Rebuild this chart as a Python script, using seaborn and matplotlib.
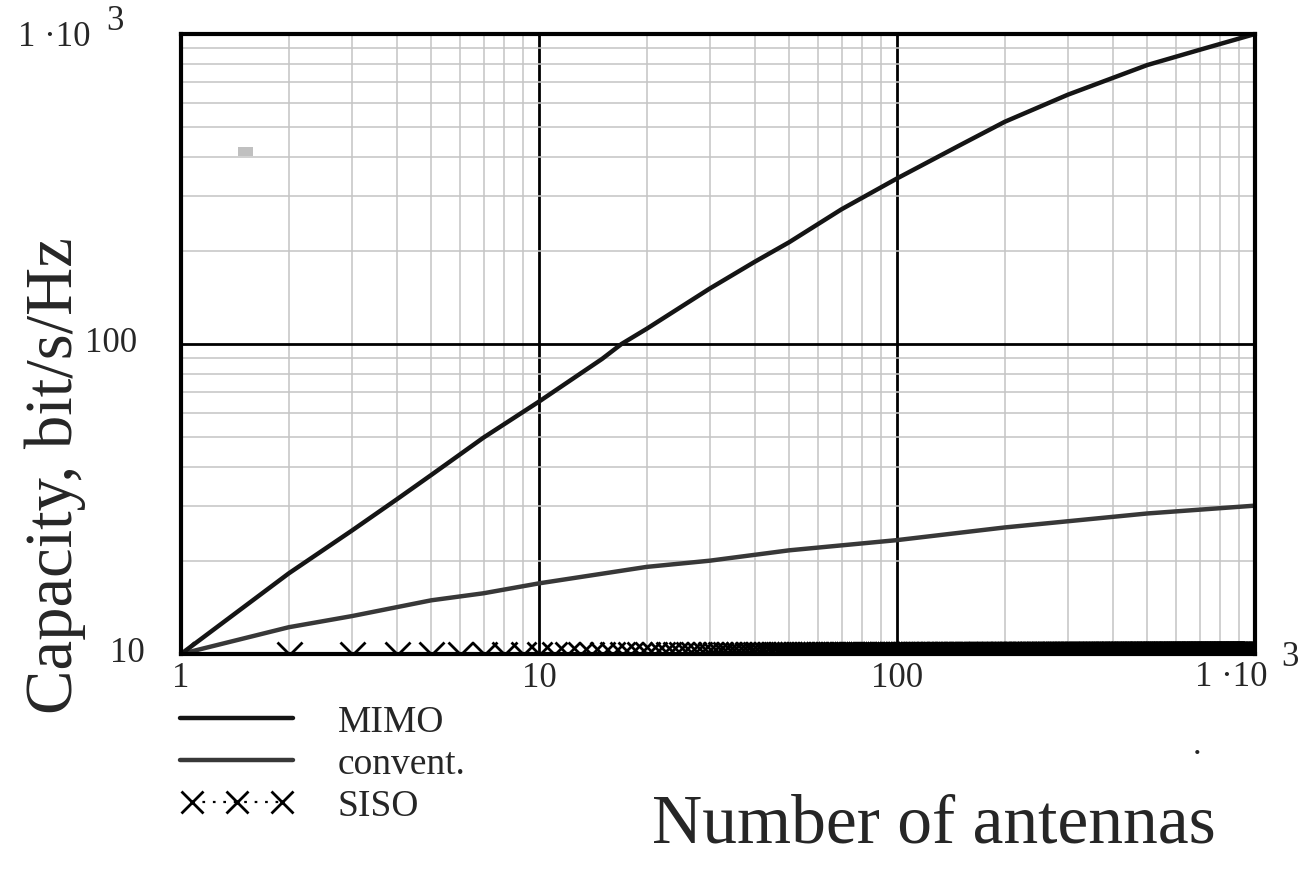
import numpy as np
import pandas as pd
import matplotlib
matplotlib.use("Agg")
import matplotlib.pyplot as plt
import seaborn as sns
from matplotlib.patches import Rectangle
from matplotlib.ticker import LogLocator, NullFormatter
from matplotlib.transforms import blended_transform_factory
from matplotlib.legend_handler import HandlerLine2D

# ---- data ----
mimo_n = [1, 2, 3, 4, 5, 7, 10, 15, 17, 20, 30, 40, 50, 70, 100, 150, 200, 300, 500, 700, 1000]
mimo_cap = [10, 18.2, 25, 31.5, 37.8, 49.9, 65.2, 89.5, 100, 112, 151, 184, 213, 272, 342, 438, 521, 637, 794, 889, 1000]

conv_n = [1, 2, 3, 5, 7, 10, 20, 30, 50, 100, 200, 500, 1000]
conv_cap = [10, 12.2, 13.25, 14.9, 15.7, 16.9, 19.1, 20.0, 21.6, 23.3, 25.6, 28.4, 30.1]

siso_n = list(range(1, 1001))
siso_cap = [10.0] * len(siso_n)

series_labels = ["MIMO", "convent.", "SISO"]
x_tick_labels = ["1", "10", "100"]
y_tick_labels = ["10", "100"]

sns.set_style("white")
plt.rcParams["font.family"] = ["Liberation Serif", "DejaVu Serif"]

W, H = 1302, 876
fig = plt.figure(figsize=(W / 100, H / 100), dpi=100)
L, R, T, B = 181, 1255, 34, 654
ax = fig.add_axes([L / W, 1 - B / H, (R - L) / W, (B - T) / H])

ax.set_xscale("log")
ax.set_yscale("log")
ax.set_xlim(1, 1000)
ax.set_ylim(10, 1000)

# grid
ax.xaxis.set_minor_locator(LogLocator(base=10, subs=np.arange(2, 10)))
ax.yaxis.set_minor_locator(LogLocator(base=10, subs=np.arange(2, 10)))
ax.xaxis.set_minor_formatter(NullFormatter())
ax.yaxis.set_minor_formatter(NullFormatter())
ax.grid(True, which="minor", color="#c4c4c4", lw=1.1)
ax.grid(True, which="major", color="black", lw=2.0)
ax.set_axisbelow(True)
ax.tick_params(which="both", length=0)

df_m = pd.DataFrame({"N": mimo_n, "C": mimo_cap})
df_c = pd.DataFrame({"N": conv_n, "C": conv_cap})
df_s = pd.DataFrame({"N": siso_n, "C": siso_cap})

sns.lineplot(data=df_s, x="N", y="C", ax=ax, color="black", lw=1.6, ls=(0, (1.2, 3.5)),
             marker="x", markersize=18, markeredgewidth=2.0, markeredgecolor="black",
             markerfacecolor="black", label=series_labels[2], estimator=None, sort=False,
             clip_on=True)
sns.lineplot(data=df_c, x="N", y="C", ax=ax, color="#383838", lw=3.2,
             label=series_labels[1], estimator=None, sort=False)
sns.lineplot(data=df_m, x="N", y="C", ax=ax, color="#151515", lw=3.2,
             label=series_labels[0], estimator=None, sort=False)

for s in ax.spines.values():
    s.set_visible(True)
    s.set_color("black")
    s.set_linewidth(3)

fs = 25
# x tick labels
ax.set_xticks([1, 10, 100, 1000])
ax.set_xticklabels(x_tick_labels + [""], fontsize=fs)
ax.tick_params(axis="x", pad=6)
fig.text(1231 / W, 1 - 677 / H, "1 ·10", fontsize=fs, ha="center", va="center")
fig.text(1290 / W, 1 - 657 / H, "3", fontsize=fs, ha="center", va="center")

# y tick labels
ax.set_yticks([10, 100, 1000])
ax.set_yticklabels([""] * 3)
tr = blended_transform_factory(fig.transFigure, ax.transData)
ax.text(145 / W, 10, y_tick_labels[0], transform=tr, fontsize=fs, ha="right", va="center")
ax.text(137 / W, 100, y_tick_labels[1], transform=tr, fontsize=fs, ha="right", va="center")
fig.text(90 / W, 1 - 37 / H, "1 ·10", fontsize=fs, ha="right", va="center")
fig.text(115 / W, 1 - 21 / H, "3", fontsize=fs, ha="center", va="center")

ax.set_xlabel("")
ax.set_ylabel("")
fig.text(55 / W, 1 - 476 / H, "Capacity, bit/s/Hz", rotation=90, fontsize=48,
         ha="center", va="center")
fig.text(934 / W, 1 - 826 / H, "Number of antennas", fontsize=50,
         ha="center", va="center")

# legend
handles, labels = ax.get_legend_handles_labels()
order = [labels.index(l) for l in series_labels]
hs = [handles[i] for i in order]
ax.legend(hs, [labels[i] for i in order],
          loc="upper left", bbox_to_anchor=(169 / W, 1 - 705 / H),
          bbox_transform=fig.transFigure, frameon=False, fontsize=27,
          handlelength=3.6, handletextpad=0.9, labelspacing=0.2,
          borderpad=0, borderaxespad=0, numpoints=3, markerscale=0.85,
          handler_map={hs[2]: HandlerLine2D(marker_pad=0.6)})

# small artefacts in reference
fig.add_artist(Rectangle((238 / W, 1 - 156 / H), 15 / W, 9 / H,
                         transform=fig.transFigure, color="#c0c0c0", lw=0))
fig.text(1197 / W, 1 - 745 / H, ".", fontsize=fs, ha="center", va="center")

fig.savefig("out.png", dpi=100)
